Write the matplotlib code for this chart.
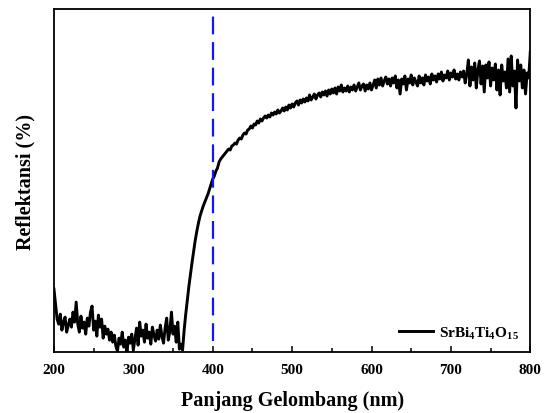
import matplotlib
matplotlib.use("Agg")
import matplotlib.pyplot as plt
import numpy as np

# wavelength grid (2 nm steps)
wavelength = np.arange(200, 801, 2)

# reflectance (arbitrary units, no y ticks in reference)
refl_baseline = [
    63, 48, 33, 28, 38, 22, 30, 35, 20, 27,
    33, 25, 40, 30, 50, 28, 20, 36, 24, 30,
    18, 34, 26, 40, 46, 22, 31, 16, 37, 25,
    33, 14, 26, 18, 23, 12, 20, 10, 17, 6,
    1, 14, 8, 20, 5, 12, 0, 15, 9, 18,
    2, 13, 24, 7, 30, 16, 22, 10, 28, 14,
    20, 8, 25, 17, 11, 22, 13, 27, 16, 9,
    24, 34, 12, 21, 40, 18, 26, 10, 30, 3,
    8, 2,
]
refl_edge = [
    22, 38, 52, 66, 78, 90, 101, 112, 121, 129,
    136, 141, 146, 150, 154, 158, 163, 168, 173, 176,
    181, 184, 190, 193, 195, 197, 199, 201,
]
refl_plateau = [
    203, 202, 206, 207, 209, 208, 212, 214, 213, 217,
    219, 218, 222, 223, 226, 224, 228, 227, 231, 229,
    233, 231, 234, 236, 234, 237, 235, 239, 237, 240,
    238, 242, 239, 241, 244, 241, 245, 242, 247, 244,
    248, 245, 249, 251, 247, 252, 249, 253, 250, 254,
    251, 257, 252, 255, 258, 253, 257, 259, 255, 260,
    257, 261, 256, 262, 258, 263, 259, 264, 258, 265,
    261, 267, 260, 264, 261, 266, 260, 265, 262, 267,
    261, 265, 269, 262, 266, 268, 261, 267, 263, 269,
    262, 267, 272, 264, 273, 267, 274, 266, 271, 275,
    268, 273, 266, 274, 269, 276, 264, 272, 258, 273,
    268, 276, 262, 273, 269, 277, 267, 274, 270, 266,
    276, 269, 274, 267, 277, 271, 275, 268, 278, 272,
    276, 270, 278, 273, 280, 271, 277, 274, 281, 272,
    279, 275, 282, 273, 278, 272, 280, 275, 281, 269,
    278, 292, 266, 285, 272, 289, 264, 282, 291, 268,
    286, 260, 287, 274, 290, 266, 284, 272, 288, 262,
    282, 257, 287, 271, 280, 264, 293, 260, 296, 266,
    281, 244, 292, 271, 287, 264, 282, 258, 279, 274,
    300,
]
reflectance = refl_baseline + refl_edge + refl_plateau

legend_label = "SrBi$_4$Ti$_4$O$_{15}$"
edge_nm = 400

plt.rcParams["font.family"] = ["Liberation Serif", "DejaVu Serif"]
plt.rcParams["font.weight"] = "bold"
plt.rcParams["mathtext.fontset"] = "custom"
plt.rcParams["mathtext.rm"] = "Liberation Serif:bold"
plt.rcParams["mathtext.it"] = "Liberation Serif:bold"
plt.rcParams["mathtext.bf"] = "Liberation Serif:bold"

fig = plt.figure(figsize=(5.45, 4.14), dpi=100)
ax = fig.add_axes([0.099, 0.147, 0.874, 0.829])

ax.plot(wavelength, reflectance, color="black", lw=2.1, label=legend_label)
ax.axvline(edge_nm, ymin=0.032, ymax=0.988, color="#1414ff", lw=1.6,
           linestyle=(0, (8, 3.5)))

ax.set_xlim(200, 800)
ax.set_ylim(0, 343)
ax.set_xticks(np.arange(200, 801, 100))
ax.set_xticks(np.arange(250, 800, 100), minor=True)
ax.set_yticks([])
ax.tick_params(axis="x", which="major", direction="in", length=4, width=1.1,
               labelsize=11, pad=8)
ax.tick_params(axis="x", which="minor", direction="in", length=3, width=1.1)
for lab in ax.get_xticklabels():
    lab.set_fontweight("bold")
for sp in ax.spines.values():
    sp.set_linewidth(1.3)

ax.set_xlabel("Panjang Gelombang (nm)", fontsize=14.5, fontweight="bold", labelpad=10)
ax.set_ylabel("Reflektansi (%)", fontsize=14.5, fontweight="bold", labelpad=13)

leg = ax.legend(loc="lower right", frameon=False, fontsize=11,
                handlelength=2.2, handletextpad=0.4, borderaxespad=0.35)

fig.savefig("out.png", dpi=100)
